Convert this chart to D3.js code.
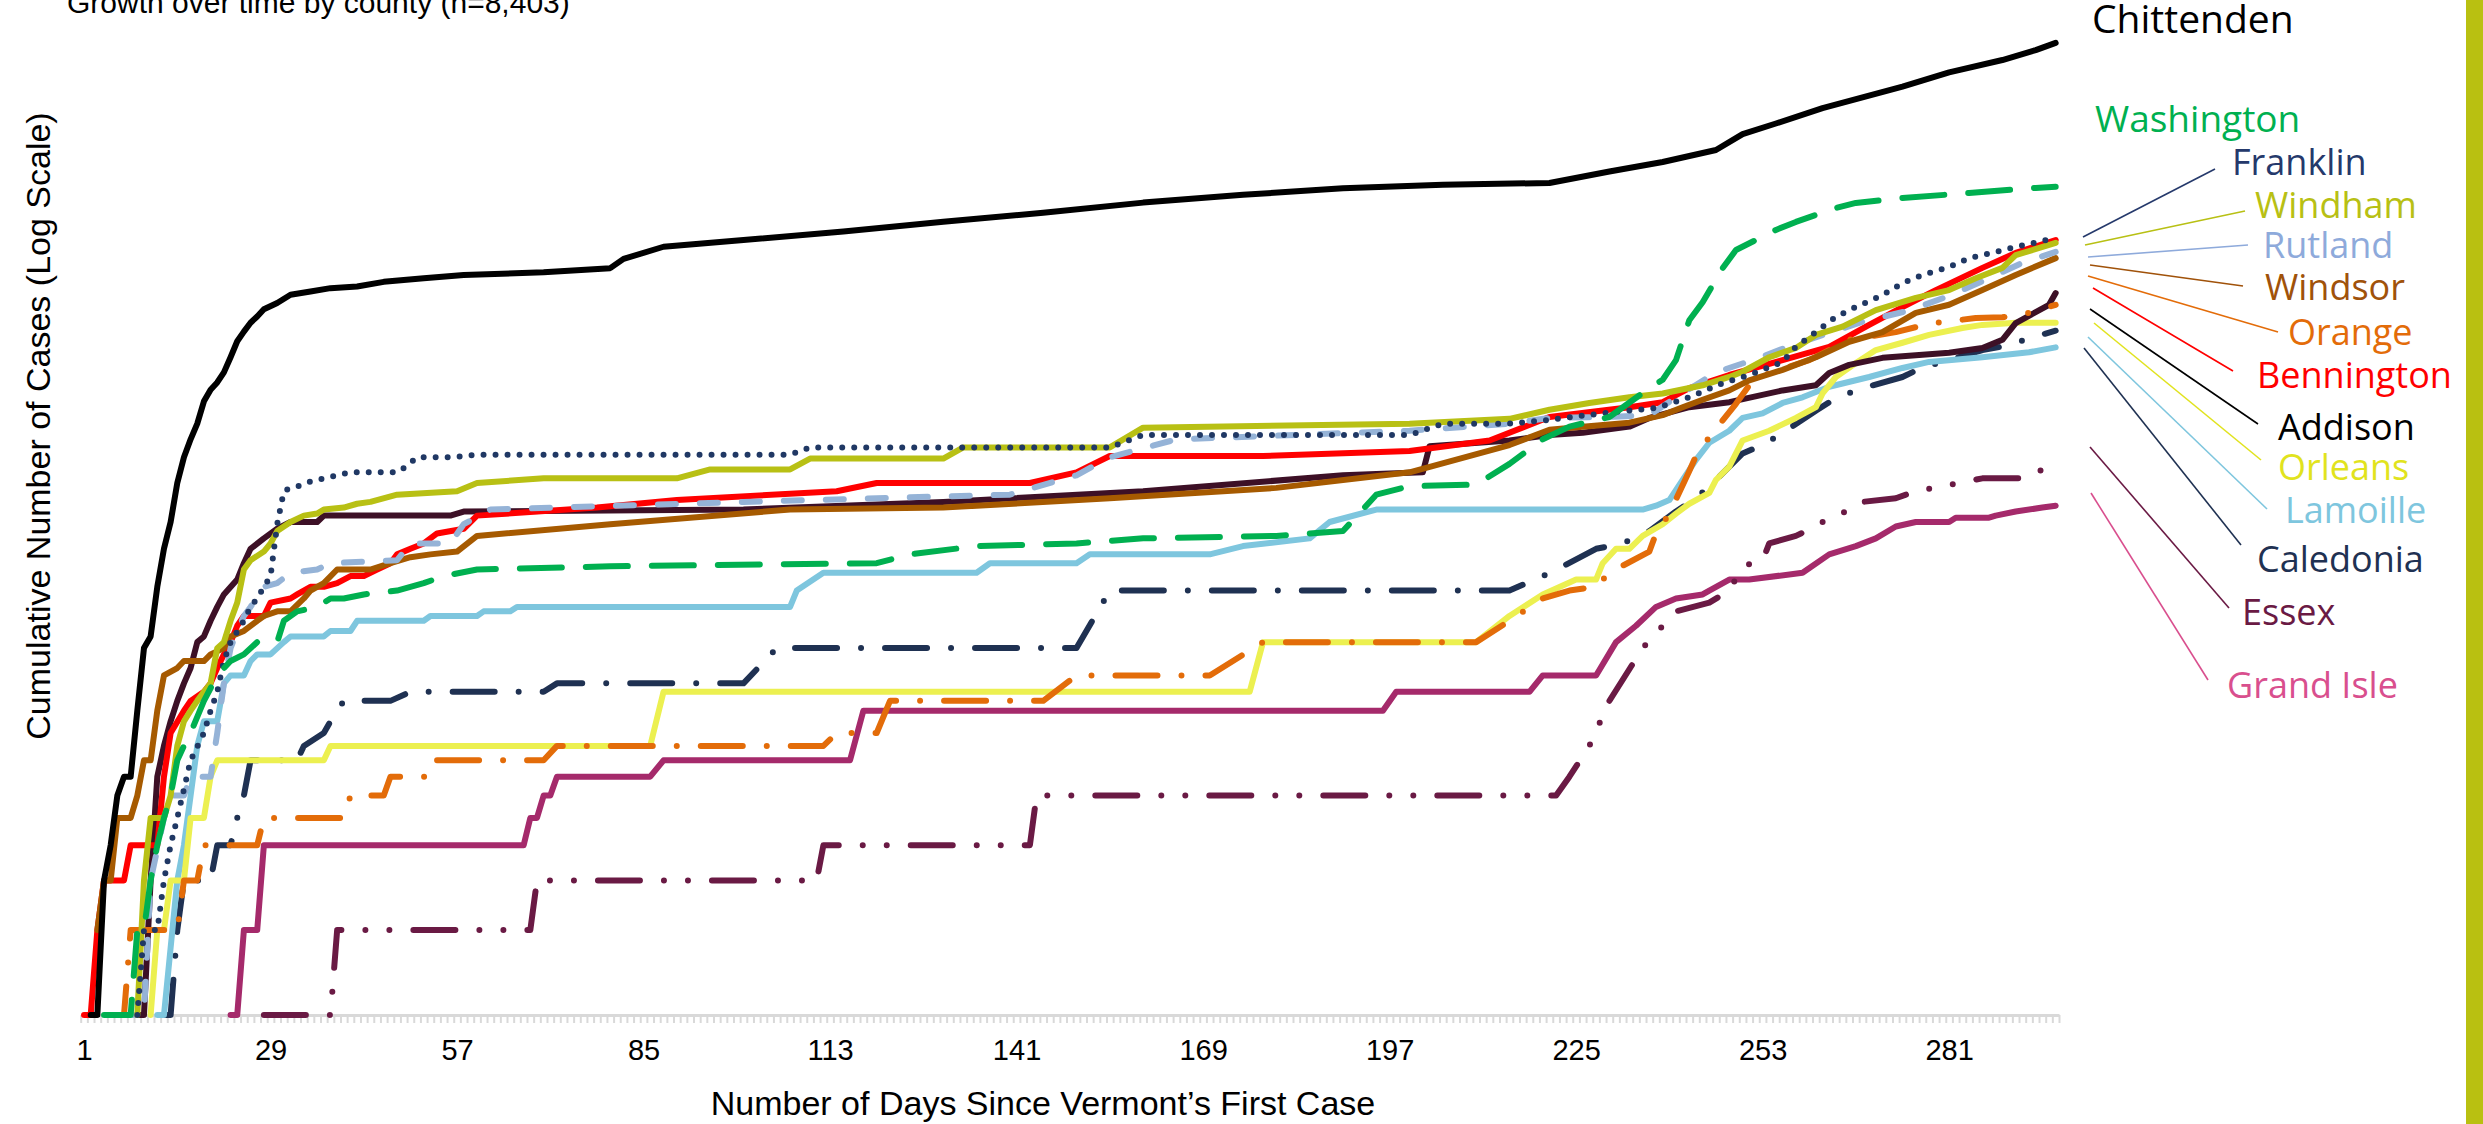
<!DOCTYPE html>
<html><head><meta charset="utf-8">
<script src="https://cdn.jsdelivr.net/npm/d3@7"></script>
<style>body{margin:0;background:#fff}svg{display:block}</style>
</head><body>
<svg id="chart" width="2483" height="1124"></svg>
<script>
// ---------- DATA (day since first case, cumulative cases) ----------
const nDays = 297;
const dayTickLabels = [1,29,57,85,113,141,169,197,225,253,281];

const chittenden = [[2,1],[3,1],[4,3],[5,4],[6,6],[7,7],[8,7],[9,12],[10,20],[11,22],[12,33],[13,45],[14,56],[15,77],[16,95],[17,110],[18,125],[19,150],[20,165],[21,175],[22,190],[23,215],[24,245],[25,265],[26,285],[27,300],[28,318],[30,335],[32,358],[35,368],[38,378],[42,383],[46,398],[52,410],[58,421],[70,430],[80,445],[82,480],[88,530],[100,560],[115,600],[130,650],[145,700],[160,760],[175,810],[190,855],[205,880],[221,892],[230,980],[238,1059],[246,1168],[250,1330],[255,1450],[262,1645],[274,1960],[281,2200],[289,2435],[294,2640],[297,2800]];
const washington = [[4,1],[8,1],[9,2],[10,2],[11,3],[12,4],[13,5],[14,6],[15,8],[16,9],[17,10],[19,13],[21,16],[23,18],[25,19],[27,21],[30,21],[31,25],[33,27],[36,28],[38,30],[40,30],[43,31],[48,32],[52,34],[55,36],[60,38],[80,39],[120,40],[125,43],[135,46],[150,47],[160,49],[180,50],[190,52],[195,70],[200,75],[210,76],[215,90],[220,110],[224,122],[230,132],[236,167],[238,179],[240,210],[242,291],[244,337],[247,445],[249,516],[255,608],[258,649],[264,727],[267,758],[274,789],[284,822],[294,857],[297,865]];
const franklin = [[9,1],[10,2],[12,2],[13,3],[14,4],[15,5],[17,8],[19,10],[20,12],[21,14],[22,18],[23,21],[25,25],[26,28],[27,30],[28,33],[29,36],[30,55],[31,72],[32,74],[34,76],[35,78],[37,80],[39,82],[41,84],[48,84],[49,87],[51,95],[56,95],[60,97],[107,97],[110,103],[155,103],[160,114],[200,114],[205,125],[215,125],[221,129],[230,137],[237,142],[242,155],[247,174],[251,186],[256,207],[258,234],[261,264],[264,299],[267,324],[271,357],[274,394],[277,421],[281,449],[284,483],[288,508],[291,529],[295,556],[297,569]];
const windham = [[9,1],[10,3],[11,5],[13,5],[14,6],[15,9],[16,11],[17,12],[18,13],[19,14],[20,15],[21,20],[22,21],[23,25],[24,29],[25,38],[26,41],[28,44],[29,47],[30,52],[32,56],[34,59],[36,60],[37,62],[40,63],[42,65],[44,66],[48,70],[57,72],[60,77],[70,80],[90,80],[95,86],[107,86],[110,94],[130,94],[133,103],[155,103],[160,121],[200,125],[215,130],[221,140],[227,148],[233,155],[238,160],[244,171],[248,183],[250,191],[254,215],[258,232],[261,258],[265,276],[270,316],[276,349],[281,372],[285,410],[289,446],[291,495],[297,547]];
const rutland = [[6,1],[10,1],[11,3],[13,5],[14,6],[16,6],[17,7],[20,7],[21,10],[22,15],[23,20],[24,23],[25,26],[26,28],[28,33],[30,34],[32,37],[36,38],[38,40],[48,41],[50,47],[56,47],[58,55],[62,62],[100,66],[120,68],[140,70],[150,82],[155,95],[165,110],[200,118],[215,125],[221,131],[230,132],[236,134],[240,155],[246,190],[252,212],[258,240],[263,262],[268,287],[275,315],[281,355],[286,400],[292,465],[297,508]];
const windsor = [[3,2],[4,3],[5,3],[6,5],[8,5],[9,6],[10,8],[11,8],[12,12],[13,16],[15,17],[16,18],[19,18],[20,19],[22,20],[23,22],[25,23],[27,25],[28,26],[30,27],[32,27],[34,30],[35,32],[37,34],[39,38],[44,38],[47,40],[50,42],[53,43],[57,44],[60,50],[80,55],[107,62],[130,63],[155,68],[180,74],[200,84],[215,105],[221,119],[226,122],[233,126],[238,134],[241,143],[244,152],[248,164],[251,178],[256,194],[261,215],[266,244],[271,264],[276,309],[281,330],[286,372],[291,421],[297,483]];
const orange = [[5,1],[7,1],[8,2],[15,2],[16,3],[18,3],[19,4],[27,4],[28,5],[40,5],[41,6],[46,6],[47,7],[53,7],[54,8],[70,8],[72,9],[112,9],[114,10],[120,10],[122,13],[145,13],[150,16],[170,16],[178,21],[210,21],[215,25],[220,30],[224,32],[228,33],[230,37],[236,44],[237,51],[239,60],[242,85],[243,96],[245,112],[249,147],[251,171],[254,189],[260,210],[263,228],[266,248],[273,264],[276,275],[279,285],[285,296],[289,298],[293,309],[297,330]];
const bennington = [[1,1],[2,1],[3,2],[4,3],[7,3],[8,4],[12,4],[13,7],[14,10],[16,12],[17,13],[19,14],[20,15],[21,17],[22,19],[23,21],[24,24],[25,26],[28,26],[29,29],[32,30],[33,31],[35,33],[37,33],[39,34],[41,36],[43,36],[45,38],[47,40],[48,43],[50,45],[52,47],[54,51],[58,53],[60,59],[78,63],[90,67],[114,72],[120,77],[143,77],[150,84],[155,96],[178,96],[200,100],[212,109],[221,132],[233,143],[238,149],[242,167],[248,186],[256,210],[263,234],[269,280],[274,324],[279,372],[286,446],[291,504],[297,560]];
const addison = [[8,1],[10,1],[11,3],[12,7],[13,9],[14,11],[15,13],[16,15],[17,17],[18,21],[19,22],[20,25],[21,28],[22,31],[24,35],[25,40],[26,45],[28,49],[30,53],[32,56],[36,56],[37,59],[56,59],[58,61],[100,62],[130,66],[160,72],[190,82],[202,84],[203,104],[215,109],[221,114],[226,116],[233,122],[236,131],[242,143],[248,149],[256,164],[261,171],[263,189],[266,202],[271,214],[281,223],[286,232],[289,248],[291,284],[296,330],[297,363]];
const orleans = [[11,1],[12,2],[13,2],[14,3],[16,3],[17,5],[19,5],[20,7],[21,8],[37,8],[38,9],[86,9],[88,14],[176,14],[178,21],[210,21],[215,26],[220,31],[225,35],[228,35],[229,40],[231,45],[233,45],[235,50],[238,55],[240,60],[242,65],[245,71],[246,79],[248,88],[250,109],[254,118],[258,131],[261,143],[262,160],[264,183],[267,205],[270,228],[274,242],[278,258],[283,273],[286,280],[291,285],[297,285]];
const lamoille = [[12,1],[13,1],[15,3],[16,4],[17,6],[18,9],[19,11],[21,11],[22,15],[23,16],[25,16],[26,18],[27,19],[29,19],[31,21],[32,22],[37,22],[38,23],[41,23],[42,25],[52,25],[53,26],[60,26],[61,27],[65,27],[66,28],[107,28],[108,32],[112,37],[135,37],[137,40],[150,40],[152,43],[170,43],[175,46],[185,49],[188,56],[195,62],[235,62],[237,64],[239,67],[241,79],[243,93],[245,107],[248,118],[250,131],[253,136],[256,148],[259,155],[263,169],[269,183],[274,197],[278,207],[286,215],[293,224],[297,233]];
const caledonia = [[13,1],[14,1],[15,2],[16,3],[20,3],[21,4],[23,4],[24,5],[25,6],[26,8],[33,8],[34,9],[37,10],[38,11],[40,13],[47,13],[50,14],[70,14],[72,15],[100,15],[105,20],[150,20],[155,32],[215,32],[220,36],[223,39],[228,45],[232,47],[236,52],[240,61],[243,68],[246,79],[250,98],[253,105],[256,116],[261,139],[264,154],[268,167],[274,183],[277,198],[281,210],[286,228],[290,237],[293,251],[297,267]];
const essex = [[28,1],[38,1],[39,2],[68,2],[69,3],[111,3],[112,4],[143,4],[144,6],[222,6],[224,7],[227,9],[230,13],[235,20],[238,24],[240,27],[245,29],[248,32],[250,39],[253,41],[254,47],[258,50],[261,54],[264,60],[266,61],[268,66],[273,68],[276,72],[280,75],[286,80],[292,80],[296,88],[297,89]];
const grandIsle = [[23,1],[24,1],[25,2],[27,2],[28,4],[67,4],[68,5],[69,5],[70,6],[71,6],[72,7],[86,7],[88,8],[116,8],[118,12],[196,12],[198,14],[218,14],[220,16],[228,16],[231,21],[234,24],[237,28],[240,30],[244,31],[245,32],[248,35],[251,35],[259,37],[263,43],[267,46],[270,49],[273,54],[276,56],[281,56],[282,58],[287,58],[288,59],[291,61],[295,63],[297,64]];

const countyNames = ["Grand Isle","Essex","Caledonia","Lamoille","Orleans","Addison","Bennington","Orange","Windsor","Rutland","Windham","Franklin","Washington","Chittenden"];
const countyData  = [grandIsle, essex, caledonia, lamoille, orleans, addison, bennington, orange, windsor, rutland, windham, franklin, washington, chittenden];

// ---------- STYLES ----------
const W = 6;
const dashes = {
  solid: null,
  dot: [0, 2*W],
  dash: [3*W, 4*W],
  lgDash: [7*W, 4*W],
  lgDashDot: [7*W, 4*W, 0, 4*W],
  lgDashDotDot: [7*W, 4*W, 0, 4*W, 0, 4*W]
};
const style = {
  "Chittenden": {c:"#000000", d:"solid", lc:"#000000"},
  "Washington": {c:"#00b050", d:"lgDash", lc:"#00b050"},
  "Franklin":   {c:"#203864", d:"dot", lc:"#25396b"},
  "Windham":    {c:"#b8c014", d:"solid", lc:"#b8c014"},
  "Rutland":    {c:"#95b3d7", d:"dash", lc:"#8eaadb"},
  "Windsor":    {c:"#a65a00", d:"solid", lc:"#a0520a"},
  "Orange":     {c:"#e36c09", d:"lgDashDot", lc:"#e36c09"},
  "Bennington": {c:"#ff0000", d:"solid", lc:"#ff0000"},
  "Addison":    {c:"#3d1026", d:"solid", lc:"#000000"},
  "Orleans":    {c:"#ecf050", d:"solid", lc:"#e1e31e"},
  "Lamoille":   {c:"#7ec6de", d:"solid", lc:"#7ec6de"},
  "Caledonia":  {c:"#1f3152", d:"lgDashDot", lc:"#1f3152"},
  "Essex":      {c:"#6a1a44", d:"lgDashDotDot", lc:"#6a1a44"},
  "Grand Isle": {c:"#a52a6b", d:"solid", lc:"#d94f8e"}
};
// label layout: text position, size + leader line
const labelLayout = [
  {n:"Chittenden", x:2092, y:33,  fs:39},
  {n:"Washington", x:2095, y:132, fs:37},
  {n:"Franklin",   x:2232, y:175, fs:36, l:[2083,237,2215,169]},
  {n:"Windham",    x:2255, y:218, fs:36, l:[2085,245,2245,211]},
  {n:"Rutland",    x:2263, y:258, fs:36, l:[2088,257,2248,245]},
  {n:"Windsor",    x:2265, y:300, fs:36, l:[2090,265,2243,286]},
  {n:"Orange",     x:2288, y:345, fs:36, l:[2088,276,2278,332]},
  {n:"Bennington", x:2257, y:388, fs:36, l:[2093,288,2233,371]},
  {n:"Addison",    x:2278, y:440, fs:36, l:[2090,309,2258,424]},
  {n:"Orleans",    x:2278, y:480, fs:36, l:[2094,323,2261,460]},
  {n:"Lamoille",   x:2285, y:523, fs:36, l:[2088,337,2267,509]},
  {n:"Caledonia",  x:2257, y:572, fs:36, l:[2084,348,2241,545]},
  {n:"Essex",      x:2242, y:625, fs:36, l:[2090,447,2229,608]},
  {n:"Grand Isle", x:2227, y:698, fs:36, l:[2091,493,2208,680]}
];

// ---------- DRAW ----------
const svg = d3.select("#chart");
svg.append("rect").attr("width",2483).attr("height",1124).attr("fill","#fff");

const x = d3.scaleLinear().domain([0.5, nDays + 0.5]).range([80.7, 2059]);
const y = d3.scaleLog().domain([1, 10000]).range([1015, 1015 - 4*282]);

// axis: minor ticks at category boundaries
const bounds = d3.range(0, nDays + 1).map(i => i + 0.5);
const gMinor = svg.append("g").attr("transform","translate(0,1015)")
  .call(d3.axisBottom(x).tickValues(bounds).tickSize(8).tickSizeOuter(0).tickFormat(""));
gMinor.selectAll(".tick line").attr("stroke","#d9d9d9").attr("stroke-width",2);
gMinor.selectAll(".tick text").remove();
gMinor.select(".domain").attr("stroke","#d9d9d9").attr("stroke-width",3);

const gLab = svg.append("g").attr("transform","translate(0,1015)")
  .call(d3.axisBottom(x).tickValues(dayTickLabels).tickSize(0).tickPadding(24).tickFormat(d3.format("d")));
gLab.select(".domain").remove();
gLab.selectAll("text").attr("font-family","Liberation Sans, Arial, sans-serif").attr("font-size",29).attr("fill","#000");

// lines
const line = d3.line().x(d => x(d[0])).y(d => y(d[1]));
const gLines = svg.append("g");
countyNames.forEach((n, i) => {
  const s = style[n];
  gLines.append("path").datum(countyData[i])
    .attr("d", line).attr("fill","none")
    .attr("stroke", s.c).attr("stroke-width", W)
    .attr("stroke-linejoin","round").attr("stroke-linecap","round")
    .attr("stroke-dasharray", dashes[s.d] ? dashes[s.d].join(",") : null);
});

// leader lines + labels
labelLayout.forEach(L => {
  const s = style[L.n];
  if (L.l) svg.append("line").attr("x1",L.l[0]).attr("y1",L.l[1]).attr("x2",L.l[2]).attr("y2",L.l[3])
      .attr("stroke", s.lc).attr("stroke-width",1.6);
  svg.append("text").attr("x",L.x).attr("y",L.y).text(L.n)
    .attr("font-family","Open Sans, sans-serif").attr("font-size",L.fs).attr("fill", s.lc);
});

// titles
svg.append("text").attr("x",67).attr("y",13).text("Growth over time by county (n=8,403)")
  .attr("font-family","Liberation Sans, Arial, sans-serif").attr("font-size",30).attr("fill","#000");
svg.append("text").attr("x",1043).attr("y",1115).attr("text-anchor","middle")
  .text("Number of Days Since Vermont\u2019s First Case")
  .attr("font-family","Liberation Sans, Arial, sans-serif").attr("font-size",34).attr("fill","#000");
svg.append("text").attr("transform","translate(50,426) rotate(-90)").attr("text-anchor","middle")
  .text("Cumulative Number of Cases (Log Scale)")
  .attr("font-family","Liberation Sans, Arial, sans-serif").attr("font-size",34).attr("fill","#000");

// right accent bar
svg.append("rect").attr("x",2466).attr("y",0).attr("width",17).attr("height",1124).attr("fill","#b9c011");
</script>
</body></html>
